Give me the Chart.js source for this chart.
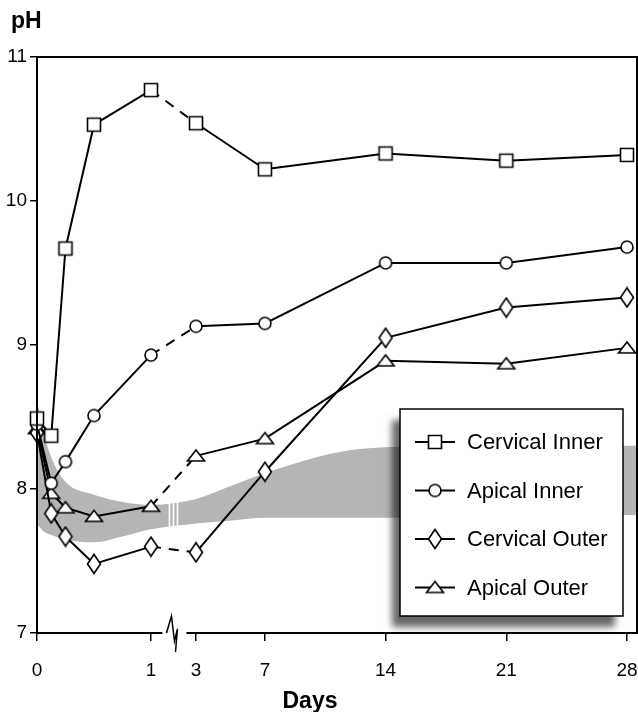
<!DOCTYPE html>
<html>
<head>
<meta charset="utf-8">
<script src="https://cdn.jsdelivr.net/npm/chart.js@4.4.1/dist/chart.umd.min.js"></script>
<style>
  body { margin: 0; background: #fff; }
  #wrap { width: 638px; height: 712px; position: relative; }
</style>
</head>
<body>
<div id="wrap"><canvas id="phChart"></canvas></div>
<script>
// sampling times (days) and pH readings per site
const DAYS = [0, 0.125, 0.25, 0.5, 1, 3, 7, 14, 21, 28];
const CERVICAL_INNER = [8.49, 8.37, 9.67, 10.53, 10.77, 10.54, 10.22, 10.33, 10.28, 10.32];
const APICAL_INNER = [8.45, 8.04, 8.19, 8.51, 8.93, 9.13, 9.15, 9.57, 9.57, 9.68];
const CERVICAL_OUTER = [8.39, 7.83, 7.67, 7.48, 7.60, 7.56, 8.12, 9.05, 9.26, 9.33];
const APICAL_OUTER = [8.42, 7.97, 7.87, 7.81, 7.88, 8.23, 8.35, 8.89, 8.87, 8.98];

// gray reference band (upper / lower edge)
const BAND_DAYS = [0, 0.05, 0.125, 0.25, 0.5, 0.75, 1, 3, 5, 7, 10, 12, 14, 21, 28.6];
const BAND_HIGH = [8.62, 8.42, 8.22, 8.05, 7.96, 7.91, 7.89, 7.93, 8.02, 8.11, 8.22, 8.27, 8.29, 8.30, 8.30];
const BAND_LOW = [7.76, 7.71, 7.68, 7.65, 7.63, 7.67, 7.72, 7.76, 7.78, 7.80, 7.80, 7.80, 7.80, 7.81, 7.82];

const DAY_TICKS = [0, 1, 3, 7, 14, 21, 28];
const PH_MIN = 7, PH_MAX = 11;
const LABELS = ['Cervical Inner', 'Apical Inner', 'Cervical Outer', 'Apical Outer'];

const FONT = "'Liberation Sans', Arial, Helvetica, sans-serif";

// axis is broken between day 1 and day 3: first day is stretched
const EARLY_STRETCH = 6.61;
const LATE_SHIFT = 6.22;
function toAxis(d) {
    return d <= 1 ? d * EARLY_STRETCH : d + LATE_SHIFT;
}
const BREAK_INDEX = DAYS.indexOf(1);

function makeMarker(kind) {
    const c = document.createElement('canvas');
    c.width = 22; c.height = 22;
    const g = c.getContext('2d');
    const cx = 11, cy = 11;
    g.lineWidth = 1.6;
    g.strokeStyle = '#000';
    g.fillStyle = '#fff';
    g.beginPath();
    if (kind === 'square') {
        g.rect(cx - 6.5, cy - 6.5, 13, 13);
    } else if (kind === 'circle') {
        g.arc(cx, cy, 6, 0, Math.PI * 2);
    } else if (kind === 'diamond') {
        g.moveTo(cx, cy - 9.5);
        g.lineTo(cx + 6.5, cy);
        g.lineTo(cx, cy + 9.5);
        g.lineTo(cx - 6.5, cy);
        g.closePath();
    } else {
        g.moveTo(cx, cy - 6);
        g.lineTo(cx + 8.5, cy + 5);
        g.lineTo(cx - 8.5, cy + 5);
        g.closePath();
    }
    g.fill();
    g.stroke();
    return c;
}
const MARKERS = [makeMarker('square'), makeMarker('circle'), makeMarker('diamond'), makeMarker('triangle')];

function series(values, i) {
    return {
        label: LABELS[i],
        data: DAYS.map((d, k) => ({ x: toAxis(d), y: values[k] })),
        borderColor: '#000',
        borderWidth: 2,
        pointStyle: MARKERS[i],
        pointRadius: 6,
        fill: false,
        clip: false,
        order: 0,
        segment: {
            borderDash: ctx => ctx.p0DataIndex === BREAK_INDEX ? [10, 8] : undefined
        }
    };
}

const bandHigh = {
    label: 'band-high',
    data: BAND_DAYS.map((d, k) => ({ x: toAxis(d), y: BAND_HIGH[k] })),
    borderWidth: 0,
    pointRadius: 0,
    cubicInterpolationMode: 'monotone',
    fill: false,
    order: 5
};
const bandLow = {
    label: 'band-low',
    data: BAND_DAYS.map((d, k) => ({ x: toAxis(d), y: BAND_LOW[k] })),
    borderWidth: 0,
    pointRadius: 0,
    cubicInterpolationMode: 'monotone',
    backgroundColor: '#b5b5b5',
    fill: '-1',
    order: 5
};

// frame, broken x axis, white stripes in band, labels, legend box
const decorPlugin = {
    id: 'decor',
    afterDatasetDraw(chart, args) {
        if (args.meta.label !== 'band-low') return;
        const ctx = chart.ctx;
        const xs = chart.scales.x, ys = chart.scales.y;
        const mid = xs.getPixelForValue((toAxis(1) + toAxis(3)) / 2);
        ctx.save();
        ctx.strokeStyle = '#fff';
        ctx.lineWidth = 1.6;
        [-4, 0, 4].forEach(off => {
            ctx.beginPath();
            ctx.moveTo(mid + off, ys.getPixelForValue(8.1));
            ctx.lineTo(mid + off, ys.getPixelForValue(7.6));
            ctx.stroke();
        });
        ctx.restore();
    },
    afterDatasetsDraw(chart) {
        const ctx = chart.ctx;
        const a = chart.chartArea;
        const xs = chart.scales.x;
        const mid = xs.getPixelForValue((toAxis(1) + toAxis(3)) / 2);
        ctx.save();
        ctx.strokeStyle = '#000';
        ctx.lineWidth = 2;
        ctx.beginPath();
        ctx.moveTo(a.left, a.bottom);
        ctx.lineTo(a.left, a.top);
        ctx.lineTo(a.right, a.top);
        ctx.lineTo(a.right, a.bottom);
        ctx.lineTo(mid + 13, a.bottom);
        ctx.moveTo(mid - 11, a.bottom);
        ctx.lineTo(a.left, a.bottom);
        ctx.stroke();
        // break mark
        ctx.lineWidth = 1.5;
        ctx.beginPath();
        ctx.moveTo(mid - 7, a.bottom);
        ctx.lineTo(mid - 2, a.bottom - 17);
        ctx.lineTo(mid + 1, a.bottom + 8);
        ctx.lineTo(mid + 4, a.bottom - 4);
        ctx.lineTo(mid + 2, a.bottom + 19);
        ctx.stroke();
        ctx.restore();
    },
    afterDraw(chart) {
        const ctx = chart.ctx;
        ctx.save();
        ctx.fillStyle = '#000';
        ctx.font = 'bold 23px ' + FONT;
        ctx.textBaseline = 'alphabetic';
        ctx.textAlign = 'left';
        ctx.fillText('pH', 11, 28);
        ctx.textAlign = 'center';
        ctx.fillText('Days', 310, 708);

        // legend with drop shadow
        const bx = 400, by = 409, bw = 223, bh = 207;
        ctx.save();
        ctx.shadowColor = 'rgba(0,0,0,0.6)';
        ctx.shadowBlur = 7;
        ctx.shadowOffsetX = -8;
        ctx.shadowOffsetY = 11;
        ctx.fillStyle = '#fff';
        ctx.fillRect(bx, by, bw, bh);
        ctx.restore();
        ctx.strokeStyle = '#000';
        ctx.lineWidth = 1.5;
        ctx.strokeRect(bx, by, bw, bh);

        ctx.font = '22px ' + FONT;
        ctx.textAlign = 'left';
        ctx.textBaseline = 'middle';
        LABELS.forEach((lab, i) => {
            const y = 442 + i * 48.5;
            ctx.lineWidth = 2;
            ctx.beginPath();
            ctx.moveTo(415, y);
            ctx.lineTo(455, y);
            ctx.stroke();
            const m = MARKERS[i];
            ctx.drawImage(m, 435 - m.width / 2, y - m.height / 2);
            ctx.fillStyle = '#000';
            ctx.fillText(lab, 467, y + 1);
        });
        ctx.restore();
    }
};

new Chart(document.getElementById('phChart'), {
    type: 'line',
    data: {
        datasets: [
            bandHigh,
            bandLow,
            series(CERVICAL_INNER, 0),
            series(APICAL_INNER, 1),
            series(CERVICAL_OUTER, 2),
            series(APICAL_OUTER, 3)
        ]
    },
    options: {
        responsive: true,
        maintainAspectRatio: false,
        animation: false,
        layout: { autoPadding: false, padding: { top: 57, right: 1, left: 0, bottom: 0 } },
        plugins: {
            legend: { display: false },
            tooltip: { enabled: false },
            filler: { propagate: false }
        },
        scales: {
            x: {
                type: 'linear',
                min: 0,
                max: toAxis(28.58),
                afterBuildTicks: scale => {
                    scale.ticks = DAY_TICKS.map(d => ({ value: toAxis(d) }));
                },
                afterFit: scale => {
                    scale.height = 79;
                    scale.paddingLeft = 0;
                    scale.paddingRight = 0;
                },
                border: { display: false },
                grid: {
                    drawOnChartArea: false,
                    drawTicks: true,
                    tickLength: 8,
                    color: '#000',
                    lineWidth: 1.5
                },
                ticks: {
                    autoSkip: false,
                    maxRotation: 0,
                    padding: 18,
                    color: '#000',
                    font: { family: FONT, size: 19 },
                    callback: (v, i) => String(DAY_TICKS[i])
                }
            },
            y: {
                min: PH_MIN,
                max: PH_MAX,
                afterFit: scale => {
                    scale.width = 37;
                    scale.paddingTop = 0;
                    scale.paddingBottom = 0;
                },
                border: { display: false },
                grid: {
                    drawOnChartArea: false,
                    drawTicks: true,
                    tickLength: 7,
                    color: '#000',
                    lineWidth: 1.5
                },
                ticks: {
                    stepSize: 1,
                    padding: 3,
                    color: '#000',
                    font: { family: FONT, size: 19 }
                }
            }
        }
    },
    plugins: [decorPlugin]
});
</script>
</body>
</html>
